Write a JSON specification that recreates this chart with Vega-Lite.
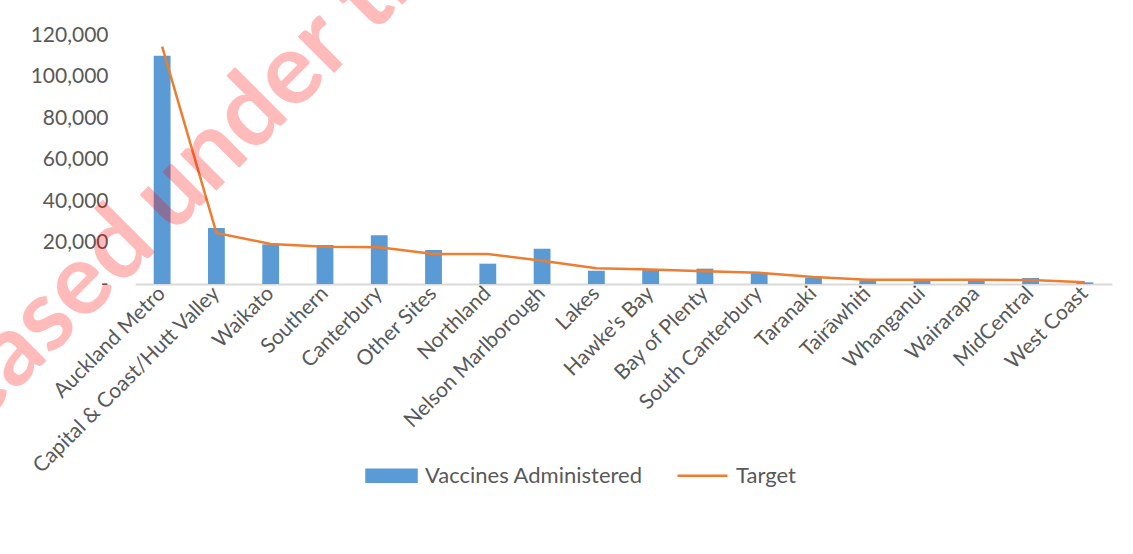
{
  "$schema": "https://vega.github.io/schema/vega-lite/v6.json",
  "autosize": {"type": "none"},
  "width": 977,
  "height": 249,
  "padding": {"left": 135, "top": 35, "right": 21, "bottom": 270},
  "background": "white",
  "config": {
    "view": {"stroke": null},
    "font": "Lato",
    "axis": {"labelFont": "Lato", "labelColor": "#595959", "labelFontSize": 21, "grid": false, "title": null},
    "legend": {"labelFont": "Lato", "labelColor": "#595959", "labelFontSize": 22}
  },
  "data": {
    "values": [
      {"region": "Auckland Metro", "vaccines": 110000, "target": 114400},
      {"region": "Capital & Coast/Hutt Valley", "vaccines": 27000, "target": 24600},
      {"region": "Waikato", "vaccines": 19100, "target": 19300},
      {"region": "Southern", "vaccines": 18800, "target": 18000},
      {"region": "Canterbury", "vaccines": 23500, "target": 17700},
      {"region": "Other Sites", "vaccines": 16400, "target": 14500},
      {"region": "Northland", "vaccines": 9800, "target": 14500},
      {"region": "Nelson Marlborough", "vaccines": 17000, "target": 11200},
      {"region": "Lakes", "vaccines": 6400, "target": 7600},
      {"region": "Hawke's Bay", "vaccines": 6700, "target": 7000},
      {"region": "Bay of Plenty", "vaccines": 7400, "target": 6100},
      {"region": "South Canterbury", "vaccines": 5200, "target": 5400},
      {"region": "Taranaki", "vaccines": 3000, "target": 3400},
      {"region": "Tairāwhiti", "vaccines": 1800, "target": 2100},
      {"region": "Whanganui", "vaccines": 1800, "target": 2100},
      {"region": "Wairarapa", "vaccines": 1800, "target": 2100},
      {"region": "MidCentral", "vaccines": 2900, "target": 1900},
      {"region": "West Coast", "vaccines": 800, "target": 800}
    ]
  },
  "encoding": {
    "x": {
      "field": "region",
      "type": "nominal",
      "sort": null,
      "scale": {"paddingInner": 0, "paddingOuter": 0},
      "axis": {
        "labelAngle": -45,
        "labelAlign": "right",
        "labelBaseline": "middle",
        "labelPadding": 6,
        "ticks": false,
        "tickSize": 0,
        "domainColor": "#d9d9d9",
        "domainWidth": 2,
        "labelOverlap": false,
        "labelBound": false,
        "labelFlush": false,
        "labelLimit": 0
      }
    }
  },
  "layer": [
    {
      "mark": {"type": "bar", "width": {"band": 0.31}},
      "encoding": {
        "y": {
          "field": "vaccines",
          "type": "quantitative",
          "scale": {"domain": [0, 120000], "nice": false},
          "axis": {
            "values": [0, 20000, 40000, 60000, 80000, 100000, 120000],
            "labelExpr": "datum.value === 0 ? '-\u00a0\u00a0\u00a0' : format(datum.value, ',')",
            "domain": false,
            "ticks": false,
            "tickSize": 0,
            "labelPadding": 27
          }
        },
        "color": {
          "datum": "Vaccines Administered",
          "type": "nominal",
          "scale": {"domain": ["Vaccines Administered", "Target"], "range": ["#5B9BD5", "#ED7D31"]},
          "legend": {
            "title": null,
            "orient": "none",
            "direction": "horizontal",
            "legendX": 230,
            "legendY": 414,
            "symbolSize": 2500,
            "columnPadding": 29,
            "labelOffset": 7,
            "labelLimit": 0,
            "encode": {
              "symbols": {
                "update": {
                  "shape": {"signal": "datum.value === 'Target' ? 'M-1,0H1' : 'M-1,-0.24H1V0.24H-1Z'"},
                  "fill": {"signal": "datum.value === 'Target' ? 'transparent' : '#5B9BD5'"},
                  "stroke": {"signal": "datum.value === 'Target' ? '#ED7D31' : 'transparent'"},
                  "strokeWidth": {"value": 2.5},
                  "opacity": {"value": 1}
                }
              }
            }
          }
        }
      }
    },
    {
      "mark": {"type": "line", "strokeWidth": 2.5},
      "encoding": {
        "y": {"field": "target", "type": "quantitative"},
        "color": {"datum": "Target", "type": "nominal"}
      }
    },
    {
      "data": {"values": [{"part": "Released"}]},
      "mark": {"type": "text", "angle": -45, "align": "right", "baseline": "alphabetic", "fontSize": 100, "fontWeight": "bold", "font": "Lato", "fill": "#ff0000", "fillOpacity": 0.27, "dx": -13, "dy": 9},
      "encoding": {
        "x": {"datum": "Auckland Metro"},
        "y": {"datum": 25000},
        "text": {"field": "part"}
      }
    },
    {
      "data": {"values": [{"part": "under the Official Information Act"}]},
      "mark": {"type": "text", "angle": -45, "align": "left", "baseline": "alphabetic", "fontSize": 100, "fontWeight": "bold", "font": "Lato", "fill": "#ff0000", "fillOpacity": 0.27, "dx": 5, "dy": 9},
      "encoding": {
        "x": {"datum": "Auckland Metro"},
        "y": {"datum": 25000},
        "text": {"field": "part"}
      }
    }
  ]
}
